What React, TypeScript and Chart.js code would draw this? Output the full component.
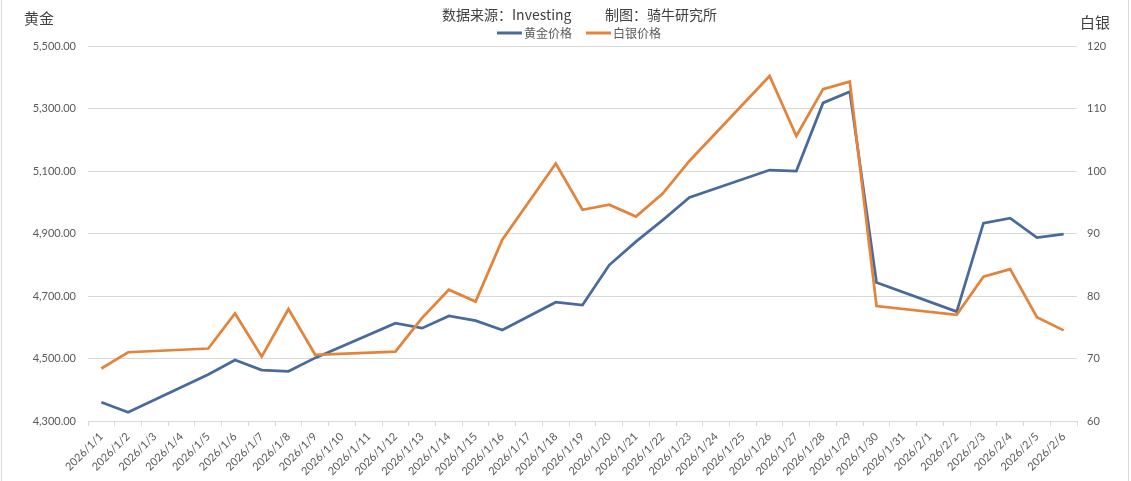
import React, { useEffect, useRef } from "react";
import { Chart, registerables } from "chart.js";

Chart.register(...registerables);

const categories: string[] = [
  "2026/1/1", "2026/1/2", "2026/1/3", "2026/1/4", "2026/1/5", "2026/1/6", "2026/1/7", "2026/1/8", "2026/1/9",
  "2026/1/10", "2026/1/11", "2026/1/12", "2026/1/13", "2026/1/14", "2026/1/15", "2026/1/16", "2026/1/17",
  "2026/1/18", "2026/1/19", "2026/1/20", "2026/1/21", "2026/1/22", "2026/1/23", "2026/1/24", "2026/1/25",
  "2026/1/26", "2026/1/27", "2026/1/28", "2026/1/29", "2026/1/30", "2026/1/31", "2026/2/1", "2026/2/2",
  "2026/2/3", "2026/2/4", "2026/2/5", "2026/2/6",
];

const goldPrices: (number | null)[] = [
  4360, 4328, null, null, 4449, 4495, 4463, 4459, 4502, null, null, 4613, 4597, 4636, 4621, 4591, null,
  4680, 4671, 4799, 4874, 4943, 5015, null, null, 5103, 5100, 5318, 5354, 4743, null, null, 4650,
  4933, 4949, 4887, 4898,
];

const silverPrices: (number | null)[] = [
  68.4, 71.0, null, null, 71.6, 77.2, 70.3, 77.9, 70.6, null, null, 71.1, 76.5, 81.0, 79.1, 89.0, null,
  101.2, 93.8, 94.6, 92.7, 96.4, 101.6, null, null, 115.2, 105.6, 113.1, 114.3, 78.4, null, null, 77.0,
  83.1, 84.3, 76.6, 74.5,
];

const seriesNames: string[] = ["黄金价格", "白银价格"];
const sourceText = "数据来源：Investing";
const makerText = "制图：骑牛研究所";
const leftAxisTitle = "黄金";
const rightAxisTitle = "白银";

const GOLD = "#4a6a9c";
const SILVER = "#e3843c";
const TEXT = "#595959";
const GRID = "#d9d9d9";
const CJK = '"Noto Sans CJK SC", "Noto Sans", sans-serif';
const NUM = 'Lato, "Noto Sans", sans-serif';

export default function App() {
  const ref = useRef<HTMLCanvasElement | null>(null);

  useEffect(() => {
    document.body.style.margin = "0";
    const canvas = ref.current;
    if (!canvas) return;

    const decor = {
      id: "decor",
      afterDraw(chart: any) {
        const ctx = chart.ctx as CanvasRenderingContext2D;
        ctx.save();
        // frame
        ctx.strokeStyle = GRID;
        ctx.lineWidth = 1;
        ctx.beginPath();
        ctx.moveTo(1.5, 0);
        ctx.lineTo(1.5, 481);
        ctx.moveTo(1128.5, 0);
        ctx.lineTo(1128.5, 481);
        ctx.stroke();

        // subtitle
        ctx.fillStyle = "#404040";
        ctx.font = `14px ${CJK}`;
        ctx.textBaseline = "middle";
        ctx.textAlign = "left";
        ctx.fillText(sourceText, 442, 15);
        ctx.fillText(makerText, 605, 15);

        // axis titles
        ctx.font = `15px ${CJK}`;
        ctx.fillText(leftAxisTitle, 24, 18);
        ctx.fillText(rightAxisTitle, 1080, 22);

        // legend
        const items = [
          { name: seriesNames[0], color: GOLD, x: 497 },
          { name: seriesNames[1], color: SILVER, x: 586 },
        ];
        ctx.font = `12px ${CJK}`;
        items.forEach((it) => {
          ctx.strokeStyle = it.color;
          ctx.lineWidth = 3;
          ctx.beginPath();
          ctx.moveTo(it.x, 33);
          ctx.lineTo(it.x + 25, 33);
          ctx.stroke();
          ctx.fillStyle = TEXT;
          ctx.fillText(it.name, it.x + 27, 33);
        });
        ctx.restore();
      },
    };

    const chart = new Chart(canvas, {
      type: "line",
      data: {
        labels: categories,
        datasets: [
          {
            label: seriesNames[0],
            data: goldPrices,
            yAxisID: "y",
            borderColor: GOLD,
            backgroundColor: GOLD,
            borderWidth: 2.75,
            pointRadius: 0,
            tension: 0,
            spanGaps: true,
            order: 1,
          },
          {
            label: seriesNames[1],
            data: silverPrices,
            yAxisID: "y1",
            borderColor: SILVER,
            backgroundColor: SILVER,
            borderWidth: 2.75,
            pointRadius: 0,
            tension: 0,
            spanGaps: true,
            order: 0,
          },
        ],
      },
      options: {
        animation: false,
        responsive: false,
        maintainAspectRatio: false,
        layout: { padding: { top: 46, left: 0, right: 0, bottom: 0 } },
        plugins: {
          legend: { display: false },
          tooltip: { enabled: false },
          title: { display: false },
        },
        scales: {
          x: {
            type: "category",
            offset: true,
            afterFit(scale: any) {
              scale.height = 60;
            },
            grid: {
              offset: true,
              drawOnChartArea: false,
              drawTicks: true,
              tickLength: 5,
              color: GRID,
            },
            border: { display: true, color: GRID, width: 1 },
            ticks: {
              autoSkip: false,
              minRotation: 45,
              maxRotation: 45,
              color: TEXT,
              font: { family: NUM, size: 11 },
              padding: 4,
            },
          },
          y: {
            type: "linear",
            position: "left",
            min: 4300,
            max: 5500,
            afterFit(scale: any) {
              scale.width = 88;
            },
            grid: { color: GRID, drawTicks: false, lineWidth: 1 },
            border: { display: false },
            ticks: {
              stepSize: 200,
              color: TEXT,
              padding: 12,
              font: { family: NUM, size: 11 },
              callback: (v: any) =>
                Number(v).toLocaleString("en-US", { minimumFractionDigits: 2, maximumFractionDigits: 2 }),
            },
          },
          y1: {
            type: "linear",
            position: "right",
            min: 60,
            max: 120,
            afterFit(scale: any) {
              scale.width = 54;
            },
            grid: { drawOnChartArea: false, drawTicks: false },
            border: { display: false },
            ticks: {
              stepSize: 10,
              color: TEXT,
              padding: 10,
              font: { family: NUM, size: 11 },
            },
          },
        },
      },
      plugins: [decor],
    });

    return () => chart.destroy();
  }, []);

  return (
    <div style={{ width: 1131, height: 481, background: "#fff" }}>
      <canvas ref={ref} width={1131} height={481} style={{ display: "block" }} />
    </div>
  );
}
